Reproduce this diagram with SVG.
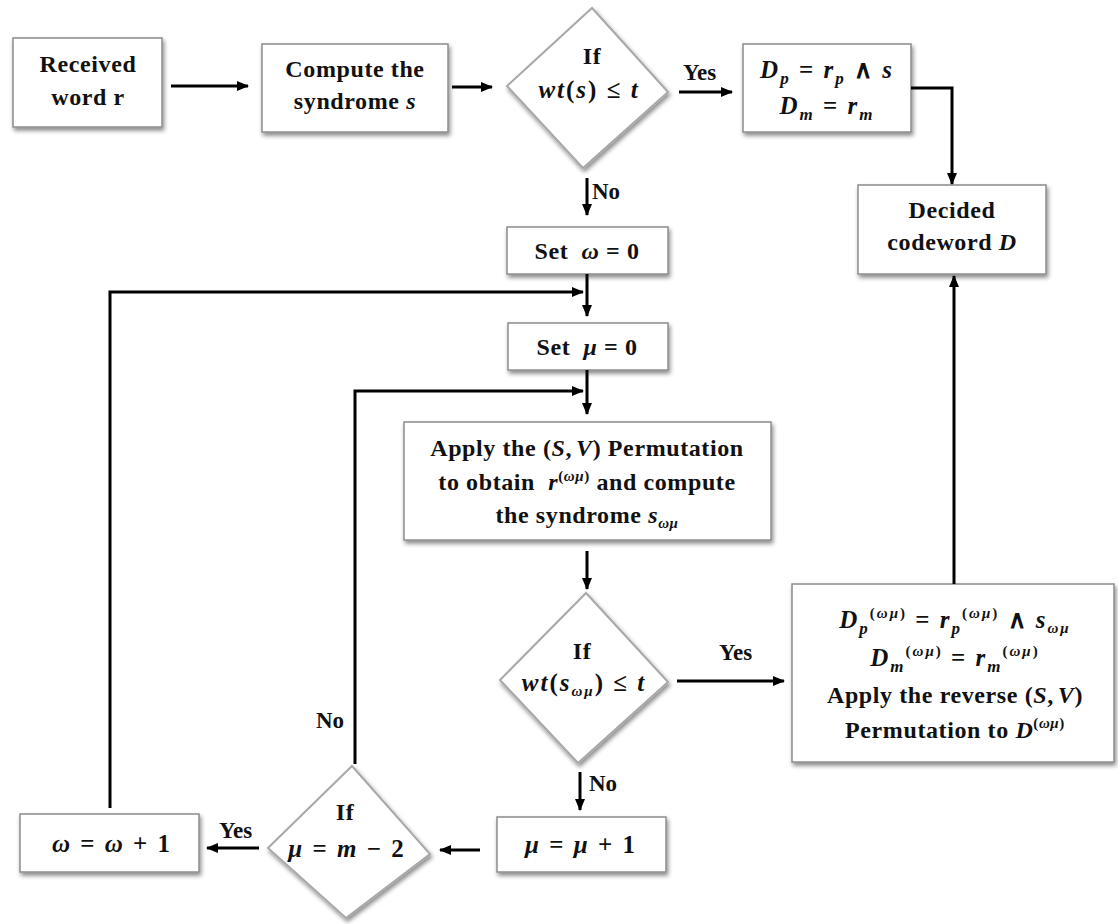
<svg xmlns="http://www.w3.org/2000/svg" width="1118" height="924" viewBox="0 0 1118 924">
<defs>
<filter id="sh" x="-10%" y="-10%" width="125%" height="135%"><feDropShadow dx="1.5" dy="3" stdDeviation="2" flood-color="#000" flood-opacity="0.45"/></filter>
<marker id="ah" viewBox="0 0 12 10" refX="11" refY="5" markerWidth="12" markerHeight="10" markerUnits="userSpaceOnUse" orient="auto"><path d="M0,0 L12,5 L0,10 z" fill="#000"/></marker>
</defs>
<style>
.box{fill:#fff;stroke:#8c8c8c;stroke-width:1.5;filter:url(#sh)}
.dia{fill:#fff;stroke:#a8a8a8;stroke-width:2;filter:url(#sh)}
.t{font-family:"Liberation Serif","Times New Roman",serif;font-weight:bold;font-size:24px;fill:#111;text-anchor:middle;letter-spacing:0.6px}
.m{font-size:25px;letter-spacing:2px}
.i{font-style:italic}
.s{font-size:17px}
.u{font-size:15px}
.c{fill:none;stroke:#000;stroke-width:3;marker-end:url(#ah)}
.l{font-family:"Liberation Serif","Times New Roman",serif;font-weight:bold;font-size:23px;fill:#111}
</style>
<rect width="1118" height="924" fill="#fff"/>

<g id="received">
<rect class="box" x="13" y="38" width="149" height="89"/>
<text class="t" x="88" y="72">Received</text>
<text class="t" x="88" y="105">word r</text>
</g>

<g id="compute">
<rect class="box" x="262" y="44" width="186" height="88"/>
<text class="t" x="355" y="77">Compute the</text>
<text class="t" x="355" y="109">syndrome <tspan class="i">s</tspan></text>
</g>

<g id="decision1">
<polygon class="dia" points="592,8 668,92 583,168 507,86"/>
<text class="t" x="592" y="64">If</text>
<text class="t m" x="589" y="98"><tspan class="i">wt</tspan>(<tspan class="i">s</tspan>) ≤ <tspan class="i">t</tspan></text>
</g>

<g id="direct">
<rect class="box" x="743" y="44" width="168" height="88"/>
<text class="t m" x="827" y="78"><tspan class="i">D</tspan><tspan class="i s" baseline-shift="-6">p</tspan> = <tspan class="i">r</tspan><tspan class="i s" baseline-shift="-6">p</tspan> ∧ <tspan class="i">s</tspan></text>
<text class="t m" x="827" y="114"><tspan class="i">D</tspan><tspan class="i s" baseline-shift="-6">m</tspan> = <tspan class="i">r</tspan><tspan class="i s" baseline-shift="-6">m</tspan></text>
</g>

<g id="decided">
<rect class="box" x="858" y="185" width="188" height="89"/>
<text class="t" x="952" y="218">Decided</text>
<text class="t" x="952" y="250">codeword <tspan class="i">D</tspan></text>
</g>

<g id="setomega">
<rect class="box" x="507" y="227" width="161" height="47"/>
<text class="t" x="587" y="259" xml:space="preserve">Set  <tspan class="i">ω</tspan> = 0</text>
</g>

<g id="setmu">
<rect class="box" x="508" y="323" width="160" height="47"/>
<text class="t" x="587" y="355" xml:space="preserve">Set  <tspan class="i">μ</tspan> = 0</text>
</g>

<g id="apply">
<rect class="box" x="404" y="422" width="367" height="118"/>
<text class="t" x="587" y="456">Apply the (<tspan class="i">S</tspan>,<tspan class="i" dx="4">V</tspan>) Permutation</text>
<text class="t" x="587" y="490" xml:space="preserve">to obtain  <tspan class="i">r</tspan><tspan class="u" baseline-shift="9">(<tspan class="i">ωμ</tspan>)</tspan> and compute</text>
<text class="t" x="587" y="523">the syndrome <tspan class="i">s</tspan><tspan class="i u" baseline-shift="-5">ωμ</tspan></text>
</g>

<g id="decision2">
<polygon class="dia" points="586,593 668,682 578,763 500,680"/>
<text class="t" x="582" y="659">If</text>
<text class="t m" x="584" y="691"><tspan class="i">wt</tspan>(<tspan class="i">s</tspan><tspan class="i u" baseline-shift="-5">ωμ</tspan>) ≤ <tspan class="i">t</tspan></text>
</g>

<g id="permdecode">
<rect class="box" x="792" y="584" width="322" height="178"/>
<text class="t m" x="955" y="628"><tspan class="i">D</tspan><tspan class="i s" baseline-shift="-6">p</tspan><tspan class="u" baseline-shift="10">(<tspan class="i">ωμ</tspan>)</tspan> = <tspan class="i">r</tspan><tspan class="i s" baseline-shift="-6">p</tspan><tspan class="u" baseline-shift="10">(<tspan class="i">ωμ</tspan>)</tspan> ∧ <tspan class="i">s</tspan><tspan class="i u" baseline-shift="-5">ωμ</tspan></text>
<text class="t m" x="955" y="666"><tspan class="i">D</tspan><tspan class="i s" baseline-shift="-6">m</tspan><tspan class="u" baseline-shift="10">(<tspan class="i">ωμ</tspan>)</tspan> = <tspan class="i">r</tspan><tspan class="i s" baseline-shift="-6">m</tspan><tspan class="u" baseline-shift="10">(<tspan class="i">ωμ</tspan>)</tspan></text>
<text class="t" x="955" y="703">Apply the reverse (<tspan class="i">S</tspan>,<tspan class="i" dx="4">V</tspan>)</text>
<text class="t" x="955" y="738">Permutation to <tspan class="i">D</tspan><tspan class="u" baseline-shift="10">(<tspan class="i">ωμ</tspan>)</tspan></text>
</g>

<g id="muinc">
<rect class="box" x="497" y="817" width="169" height="55"/>
<text class="t m" x="581" y="853"><tspan class="i">μ</tspan> = <tspan class="i">μ</tspan> + 1</text>
</g>

<g id="decision3">
<polygon class="dia" points="352,766 430,854 346,918 268,848"/>
<text class="t" x="345" y="820">If</text>
<text class="t m" x="347" y="857"><tspan class="i">μ</tspan> = <tspan class="i">m</tspan> − 2</text>
</g>

<g id="omegainc">
<rect class="box" x="20" y="814" width="179" height="58"/>
<text class="t m" x="112" y="852"><tspan class="i">ω</tspan> = <tspan class="i">ω</tspan> + 1</text>
</g>

<g id="connectors">
<path class="c" d="M171,86 H248"/>
<path class="c" d="M452,87 H492"/>
<path class="c" d="M679,92 H732"/>
<path class="c" d="M911,88 H952 V184"/>
<path class="c" d="M587,178 V215"/>
<path class="c" d="M587,274 V316"/>
<path class="c" d="M110,808 V292 H583"/>
<path class="c" d="M587,370 V414"/>
<path class="c" d="M355,764 V391 H583"/>
<path class="c" d="M587,551 V589"/>
<path class="c" d="M677,681 H784"/>
<path class="c" d="M580,772 V810"/>
<path class="c" d="M480,850 H440"/>
<path class="c" d="M259,848 H207"/>
<path class="c" d="M954,584 V276"/>
</g>

<g id="labels">
<text class="l" x="683" y="80">Yes</text>
<text class="l" x="592" y="199">No</text>
<text class="l" x="719" y="660">Yes</text>
<text class="l" x="589" y="791">No</text>
<text class="l" x="316" y="728">No</text>
<text class="l" x="219" y="838">Yes</text>
</g>
</svg>
